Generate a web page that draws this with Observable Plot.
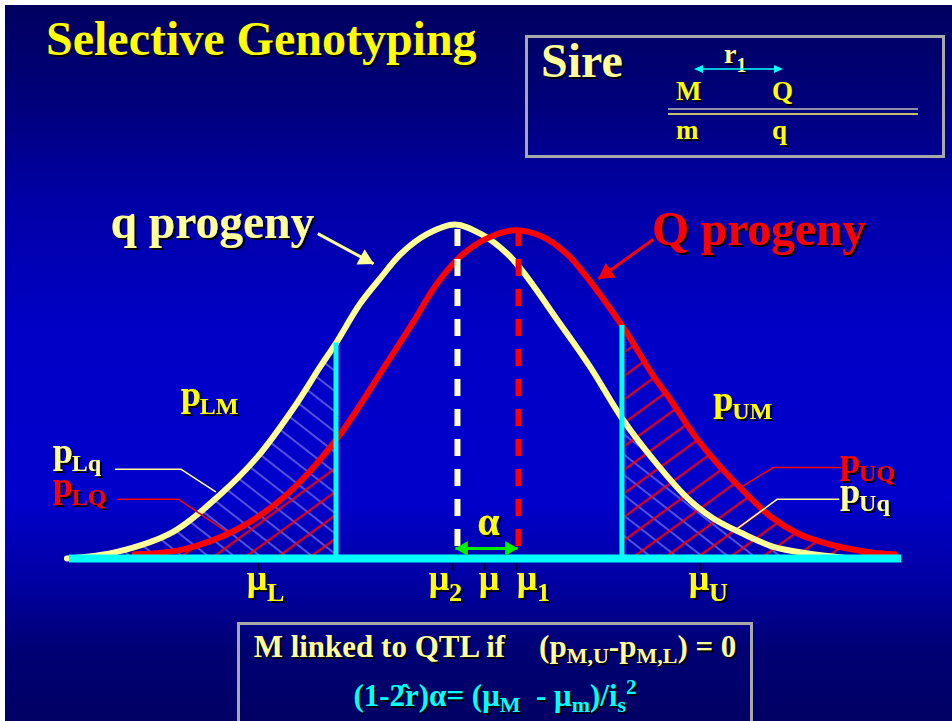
<!DOCTYPE html>
<html><head><meta charset="utf-8">
<script src="https://cdn.jsdelivr.net/npm/d3@7"></script>
<script src="https://cdn.jsdelivr.net/npm/@observablehq/plot@0.6"></script>
<style>
html,body{margin:0;padding:0;background:#fff;}
#wrap{position:relative;width:952px;height:721px;overflow:hidden;font-family:"Liberation Serif","Times New Roman",serif;font-weight:bold;}
#bg{position:absolute;left:5px;top:5px;width:947px;height:716px;background:linear-gradient(to bottom,#000060 0px,#00007a 95px,#0000a6 195px,#0000c6 325px,#0000cc 495px,#0000a4 575px,#000074 645px,#000064 716px);}
.t{position:absolute;white-space:nowrap;line-height:1;text-shadow:2px 2px 0 #000;}
.sub{position:relative;top:6px;font-size:22px;}
.sup{position:relative;top:-12px;font-size:21px;}
#chart{position:absolute;left:0;top:160px;}
#chart svg text{filter:url(#shadow);}
</style></head>
<body>
<div id="wrap">
  <div id="bg"></div>
  <div class="t" style="left:46px;top:15px;font-size:48px;color:#ffff00">Selective Genotyping</div>

  <div style="position:absolute;left:525px;top:35px;width:414px;height:117px;border:3px solid #a8a8a8;"></div>
  <div class="t" style="left:541px;top:37px;font-size:48px;color:#ffff99">Sire</div>
  <div class="t" style="left:724px;top:40px;font-size:28px;color:#ffff99">r<span style="position:relative;top:9px;font-size:20px">1</span></div>
  <div class="t" style="left:676px;top:78px;font-size:27px;color:#ffff00">M</div>
  <div class="t" style="left:772px;top:78px;font-size:27px;color:#ffff00">Q</div>
  <div class="t" style="left:676px;top:117px;font-size:27px;color:#ffff00">m</div>
  <div class="t" style="left:772px;top:117px;font-size:27px;color:#ffff00">q</div>
  <svg style="position:absolute;left:0;top:0" width="952" height="160">
    <line x1="702" y1="69" x2="775" y2="69" stroke="#00ffff" stroke-width="1.6"/>
    <path d="M694,69 L703,65 L703,73 Z" fill="#00ffff"/>
    <path d="M783,69 L774,65 L774,73 Z" fill="#00ffff"/>
    <line x1="668" y1="109" x2="918" y2="109" stroke="#bdbdbd" stroke-width="1.6"/>
    <line x1="668" y1="114" x2="918" y2="114" stroke="#ffff66" stroke-width="1.6"/>
  </svg>

  <div id="chart"></div>

  <div style="position:absolute;left:237px;top:622px;width:510px;height:110px;border:3px solid #a8a8a8;"></div>
  <div class="t" style="left:240px;width:510px;text-align:center;top:631px;font-size:31px;color:#ffff99">M linked to QTL if<span style="display:inline-block;width:34px"></span>(p<span class="sub">M,U</span>-p<span class="sub">M,L</span>) = 0</div>
  <div class="t" style="left:240px;width:510px;text-align:center;top:680px;font-size:31px;color:#00ffff">(1-2&#770;r)α= (μ<span class="sub">M</span>&nbsp; - μ<span class="sub">m</span>)/i<span class="sub">s</span><span class="sup">2</span></div>
</div>

<script>
// ---- data (x in σ units around μ, y = relative frequency) ----
const qX = [-3.27,-2.88,-2.44,-2.07,-1.78,-1.50,-1.29,-1.168,-0.98,-0.82,-0.66,-0.45,-0.24,-0.04,0.17,0.30,0.56,0.82,1.066,1.34,1.58,1.78,2.02,2.25,2.52,2.80];
const qY = [0.000,0.008,0.032,0.077,0.122,0.180,0.230,0.258,0.305,0.336,0.365,0.389,0.400,0.389,0.365,0.342,0.286,0.229,0.168,0.113,0.072,0.048,0.029,0.014,0.006,0.001];
const QX = [-2.74,-2.36,-1.94,-1.55,-1.168,-0.78,-0.57,-0.38,-0.18,0.02,0.23,0.45,0.64,0.74,1.066,1.31,1.45,1.63,1.81,2.02,2.23,2.44,2.62,2.83,3.03,3.20];
const QY = [0.005,0.011,0.035,0.077,0.142,0.232,0.282,0.329,0.364,0.384,0.393,0.385,0.364,0.347,0.279,0.219,0.189,0.148,0.114,0.080,0.050,0.030,0.020,0.012,0.007,0.005];

const cutX = [-1.168, 1.066];
const cutTop = [0.258, 0.279];
const meanX = [-0.219, 0.258];
const meanTop = [0.394, 0.394];
const meanGroup = ["q", "Q"];
const baseX = [-3.25, 3.25];

const tickX = [-1.773, -0.258, -0.008, 0.242, 1.68];
const muLabelX = [-1.785, -0.363, 0.027, 0.324, 1.668];
const muSub = ["L", "2", "", "1", "U"];
const muLabelY = -0.038;

const pSub = ["LM", "UM", "Lq", "LQ", "UQ", "Uq"];
const pX = [-2.38, 1.78, -3.38, -3.38, 2.77, 2.77];
const pY = [0.183, 0.177, 0.114, 0.074, 0.102, 0.066];
const pGroup = ["M", "M", "q", "Q", "Q", "q"];

const leaderGroup = ["q", "Q", "Q", "q"];
const leaderX = [[-2.89,-2.38,-2.11],[-2.87,-2.40,-2.02],[2.77,2.25,1.99],[2.76,2.28,1.97]];
const leaderY = [[0.107,0.107,0.080],[0.071,0.071,0.032],[0.109,0.109,0.085],[0.071,0.071,0.036]];

const progenyText = ["q progeny", "Q progeny"];
const progenyX = [-2.93, 1.30];
const progenyY = [0.384, 0.375];
const arrowX1 = [-1.31, 1.31], arrowY1 = [0.389, 0.382];
const arrowX2 = [-0.875, 0.883], arrowY2 = [0.353, 0.335];

const alphaX = 0.023, alphaY = 0.028;
const alphaArrowX = [-0.234, 0.250], alphaArrowY = 0.012;

// ---- build ----
const color = {q: "#ffff99", Q: "#ff0000", M: "#ffff00"};
const qCurve = qX.map((x, i) => ({x, y: qY[i]}));
const QCurve = QX.map((x, i) => ({x, y: QY[i]}));
const eps = 1e-9;
const lowQ = qCurve.filter(d => d.x <= cutX[0] + eps), highQ = qCurve.filter(d => d.x >= cutX[1] - eps);
const lowR = QCurve.filter(d => d.x <= cutX[0] + eps), highR = QCurve.filter(d => d.x >= cutX[1] - eps);
const means = meanX.map((x, i) => ({x, top: meanTop[i], g: meanGroup[i]}));
const cuts = cutX.map((x, i) => ({x, top: cutTop[i]}));
const mus = muLabelX.map((x, i) => ({x, sub: muSub[i]}));
const ps = pSub.map((s, i) => ({x: pX[i], y: pY[i], sub: s, g: pGroup[i]}));
const leaders = leaderGroup.flatMap((g, i) => leaderX[i].map((x, j) => ({x, y: leaderY[i][j], id: i, g})));
const progeny = progenyText.map((t, i) => ({t, x: progenyX[i], y: progenyY[i], g: i ? "Q" : "q",
  x1: arrowX1[i], y1: arrowY1[i], x2: arrowX2[i], y2: arrowY2[i]}));

const W = 952, H = 460;
const xScale = {domain: [-485 / 128, (W - 485) / 128], range: [0, W]};
const yScale = {domain: [-(H - 398) / 835, 398 / 835], range: [H, 0]};
const serif = "Liberation Serif, Times New Roman, serif";
const crv = "catmull-rom";

const svg = Plot.plot({
  width: W, height: H, margin: 0,
  x: {...xScale, axis: null},
  y: {...yScale, axis: null},
  style: {background: "transparent", overflow: "visible", fontFamily: serif},
  marks: [
    Plot.areaY(lowQ, {x: "x", y: "y", curve: crv, fill: "url(#hatchBlue)"}),
    Plot.areaY(highQ, {x: "x", y: "y", curve: crv, fill: "url(#hatchBlue)"}),
    Plot.areaY(lowR, {x: "x", y: "y", curve: crv, fill: "url(#hatchRed)"}),
    Plot.areaY(highR, {x: "x", y: "y", curve: crv, fill: "url(#hatchRed)"}),
    Plot.line(qCurve, {x: "x", y: "y", curve: crv, stroke: color.q, strokeWidth: 6, strokeLinejoin: "round", strokeLinecap: "round"}),
    Plot.line(QCurve, {x: "x", y: "y", curve: crv, stroke: color.Q, strokeWidth: 6, strokeLinejoin: "round", strokeLinecap: "round"}),
    Plot.ruleX(means, {x: "x", y1: "top", y2: () => 0, stroke: d => d.g === "q" ? "#ffffcc" : "#ff0000", strokeWidth: 6, strokeDasharray: "17,13"}),
    Plot.ruleX(cuts, {x: "x", y1: () => 0, y2: "top", stroke: "#00ffff", strokeWidth: 5}),
    Plot.ruleY([{y: 0}], {y: "y", x1: () => baseX[0], x2: () => baseX[1], stroke: "#00ffff", strokeWidth: 8}),
    Plot.ruleX(tickX, {x: d => d, y1: () => -0.006, y2: () => -0.015, stroke: "#000022", strokeWidth: 1.5}),
    Plot.line(leaders, {x: "x", y: "y", z: "id", stroke: d => color[d.g], strokeWidth: 1.5}),
    // arrows for the progeny labels
    Plot.link(progeny, {x1: "x1", y1: "y1", x2: "x2", y2: "y2", stroke: d => color[d.g], strokeWidth: 3}),
    Plot.dot(progeny.slice(0, 1), {x: "x2", y: "y2", symbol: "triangle", r: 6.5, rotate: 118, dx: -8.5, dy: -4.5, fill: color.q, stroke: "none"}),
    Plot.dot(progeny.slice(1), {x: "x2", y: "y2", symbol: "triangle", r: 6.5, rotate: 235, dx: 8, dy: -5.6, fill: color.Q, stroke: "none"}),
    // alpha double arrow
    Plot.link([{a: alphaArrowX[0], b: alphaArrowX[1]}], {x1: "a", x2: "b", y1: () => alphaArrowY, y2: () => alphaArrowY, stroke: "#00ee00", strokeWidth: 3}),
    Plot.dot([alphaArrowX[0]], {x: d => d, y: () => alphaArrowY, symbol: "triangle", r: 5.5, rotate: -90, dx: 8, fill: "#00ee00", stroke: "none"}),
    Plot.dot([alphaArrowX[1]], {x: d => d, y: () => alphaArrowY, symbol: "triangle", r: 5.5, rotate: 90, dx: -8, fill: "#00ee00", stroke: "none"}),
    // texts
    Plot.text(progeny, {x: "x", y: "y", text: "t", fill: d => color[d.g], fontSize: 47.5, fontWeight: "bold", textAnchor: "start", lineAnchor: "bottom", fontFamily: serif}),
    Plot.text(ps, {x: "x", y: "y", text: () => "p", fill: d => color[d.g], fontSize: 36, fontWeight: "bold", textAnchor: "start", lineAnchor: "bottom", fontFamily: serif}),
    Plot.text(ps, {x: "x", y: "y", text: "sub", dx: 19, dy: 8, fill: d => color[d.g], fontSize: 24, fontWeight: "bold", textAnchor: "start", lineAnchor: "bottom", fontFamily: serif}),
    Plot.text(mus, {x: "x", y: () => muLabelY, text: () => "μ", fill: "#ffff00", fontSize: 36, fontWeight: "bold", textAnchor: "middle", lineAnchor: "bottom", fontFamily: serif}),
    Plot.text(mus, {x: "x", y: () => muLabelY, text: "sub", dx: 10, dy: 11, fill: "#ffff00", fontSize: 26, fontWeight: "bold", textAnchor: "start", lineAnchor: "bottom", fontFamily: serif}),
    Plot.text([alphaX], {x: d => d, y: () => alphaY, text: () => "α", fill: "#ffff00", fontSize: 40, fontWeight: "bold", textAnchor: "middle", lineAnchor: "bottom", fontFamily: serif})
  ]
});

const NS = "http://www.w3.org/2000/svg";
const defs = document.createElementNS(NS, "defs");
defs.innerHTML = `
  <filter id="shadow" x="-20%" y="-20%" width="140%" height="140%">
    <feDropShadow dx="2" dy="2" stdDeviation="0" flood-color="#000000" flood-opacity="1"/>
  </filter>
  <pattern id="hatchRed" patternUnits="userSpaceOnUse" width="19" height="19" patternTransform="rotate(54)">
    <line x1="9.5" y1="-1" x2="9.5" y2="20" stroke="#ff0000" stroke-width="2"/>
  </pattern>
  <pattern id="hatchBlue" patternUnits="userSpaceOnUse" width="16" height="16" patternTransform="rotate(-52)">
    <line x1="8" y1="-1" x2="8" y2="17" stroke="#5050dc" stroke-width="2"/>
  </pattern>`;
svg.insertBefore(defs, svg.firstChild);
document.getElementById("chart").appendChild(svg);
</script>
</body></html>
